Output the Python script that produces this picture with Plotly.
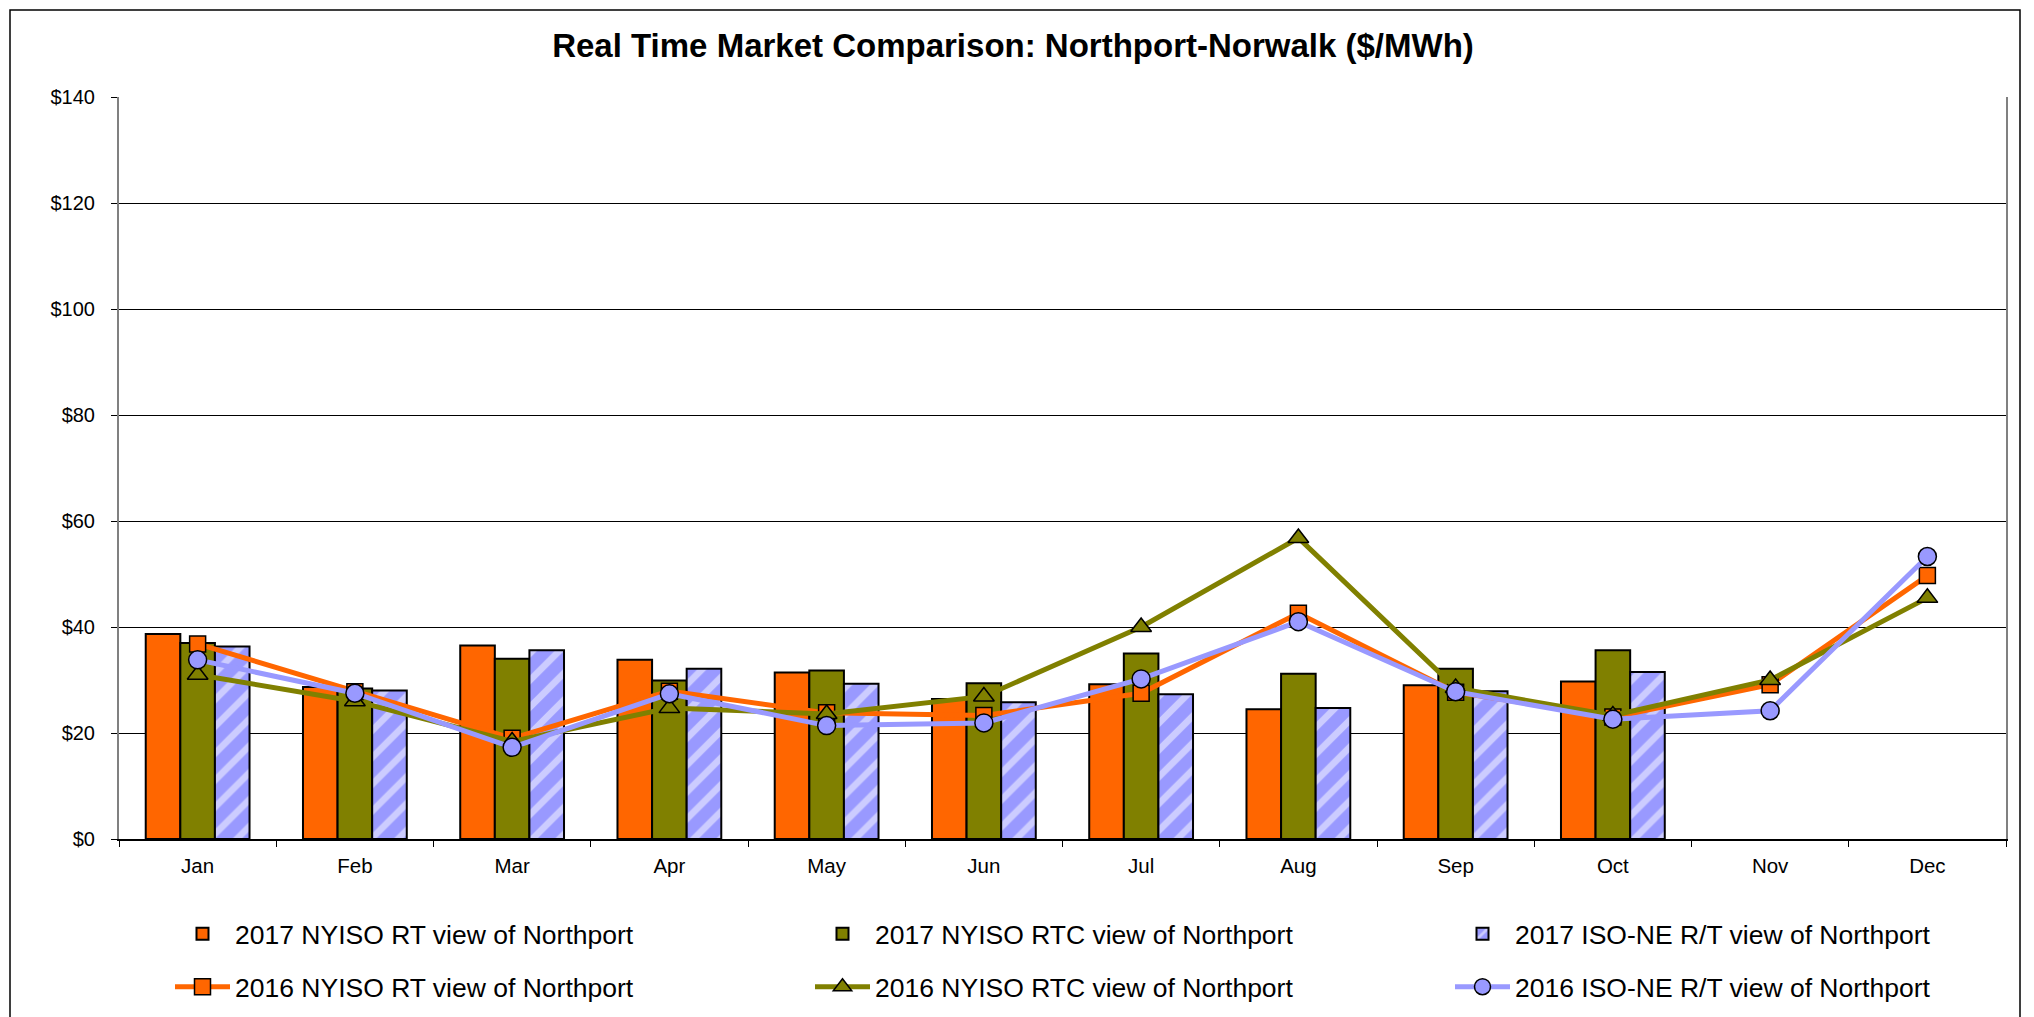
import plotly.graph_objects as go

months = ["Jan", "Feb", "Mar", "Apr", "May", "Jun", "Jul", "Aug", "Sep", "Oct", "Nov", "Dec"]

nyiso_rt_2017 = [38.7, 28.7, 36.5, 33.8, 31.4, 26.4, 29.2, 24.5, 29.0, 29.7, None, None]
nyiso_rtc_2017 = [37.0, 28.4, 34.0, 29.9, 31.8, 29.4, 35.0, 31.2, 32.1, 35.6, None, None]
isone_rt_2017 = [36.3, 28.0, 35.6, 32.1, 29.3, 25.8, 27.3, 24.7, 27.9, 31.5, None, None]

nyiso_rt_2016 = [36.8, 27.8, 19.0, 27.9, 23.8, 23.3, 27.5, 42.6, 27.7, 23.0, 29.1, 49.7]
nyiso_rtc_2016 = [31.0, 26.0, 18.4, 24.7, 23.6, 26.9, 40.0, 56.8, 28.5, 23.3, 30.0, 45.5]
isone_rt_2016 = [33.8, 27.5, 17.3, 27.4, 21.4, 21.9, 30.2, 41.0, 27.8, 22.6, 24.2, 53.3]

y_tick_vals = [0, 20, 40, 60, 80, 100, 120, 140]
y_tick_labels = ["$0", "$20", "$40", "$60", "$80", "$100", "$120", "$140"]

ORANGE = "#FF6600"
OLIVE = "#808000"
LAV = "#9999FF"
FONT = "Liberation Sans, Arial, sans-serif"

W, H = 2034, 1017
PL, PR, PT, PB = 119, 2006, 97, 839   # plot area in pixels
PW, PH = PR - PL, PB - PT
ITEMW = 55


def px_x(px):
    return (px - PL) / PW


def px_y(py):
    return (PB - py) / PH


fig = go.Figure()

fig.add_trace(go.Bar(
    x=months, y=nyiso_rt_2017, name="2017 NYISO RT view of Northport",
    marker=dict(color=ORANGE, line=dict(color="black", width=2)), legend="legend"))
fig.add_trace(go.Bar(
    x=months, y=nyiso_rtc_2017, name="2017 NYISO RTC view of Northport",
    marker=dict(color=OLIVE, line=dict(color="black", width=2)), legend="legend2"))
fig.add_trace(go.Bar(
    x=months, y=isone_rt_2017, name="2017 ISO-NE R/T view of Northport",
    marker=dict(color=LAV, line=dict(color="black", width=2),
                pattern=dict(shape="/", bgcolor=LAV, fgcolor="white", size=19, solidity=0.35)),
    legend="legend3"))

fig.add_trace(go.Scatter(
    x=months, y=nyiso_rt_2016, name="2016 NYISO RT view of Northport", mode="lines+markers",
    line=dict(color=ORANGE, width=5),
    marker=dict(symbol="square", size=16, color=ORANGE, line=dict(color="black", width=1.5)),
    legend="legend4"))
fig.add_trace(go.Scatter(
    x=months, y=nyiso_rtc_2016, name="2016 NYISO RTC view of Northport", mode="lines+markers",
    line=dict(color=OLIVE, width=5),
    marker=dict(symbol="triangle-up", size=18, color=OLIVE, line=dict(color="black", width=1.5)),
    legend="legend5"))
fig.add_trace(go.Scatter(
    x=months, y=isone_rt_2016, name="2016 ISO-NE R/T view of Northport", mode="lines+markers",
    line=dict(color=LAV, width=5),
    marker=dict(symbol="circle", size=18, color=LAV, line=dict(color="black", width=1.5)),
    legend="legend6"))


def leg(text_x_px, row_y_px):
    return dict(orientation="v", xanchor="left", yanchor="middle",
                x=px_x(text_x_px - ITEMW - 10), y=px_y(row_y_px),
                itemwidth=ITEMW,
                font=dict(family=FONT, size=26.5, color="black"),
                bgcolor="rgba(0,0,0,0)", borderwidth=0, visible=True)


col_x = [235, 875, 1515]
row_y = [934, 987]

fig.update_layout(
    width=W, height=H, showlegend=True,
    margin=dict(l=PL, r=W - PR, t=PT, b=H - PB, autoexpand=False),
    paper_bgcolor="white", plot_bgcolor="white",
    font=dict(family=FONT, color="black"),
    title=dict(text="<b>Real Time Market Comparison: Northport-Norwalk ($/MWh)</b>",
               x=1013 / W, xref="container", xanchor="center",
               y=1 - 45 / H, yref="container", yanchor="middle",
               font=dict(family=FONT, size=33, color="black")),
    barmode="group", bargap=0.34, bargroupgap=0,
    legend=leg(col_x[0], row_y[0]),
    legend2=leg(col_x[1], row_y[0]),
    legend3=leg(col_x[2], row_y[0]),
    legend4=leg(col_x[0], row_y[1]),
    legend5=leg(col_x[1], row_y[1]),
    legend6=leg(col_x[2], row_y[1]),
    xaxis=dict(range=[-0.5, 11.5], showline=True, linecolor="black", linewidth=1.5,
               ticks="outside", ticklen=6, tickcolor="black", tickson="boundaries",
               ticklabelstandoff=8,
               tickfont=dict(family=FONT, size=20.5, color="black"),
               showgrid=False),
    yaxis=dict(range=[0, 140], tickvals=y_tick_vals, ticktext=y_tick_labels,
               showline=True, linecolor="#808080", linewidth=2, mirror=True,
               ticks="outside", ticklen=6, tickcolor="black",
               ticklabelstandoff=12,
               showgrid=True, gridcolor="black", gridwidth=1,
               zeroline=False,
               tickfont=dict(family=FONT, size=20, color="black")),
    shapes=[dict(type="rect", xref="paper", yref="paper",
                 x0=px_x(10), x1=px_x(2020),
                 y0=px_y(1030), y1=px_y(10),
                 line=dict(color="black", width=1.5), fillcolor="rgba(0,0,0,0)", layer="below")],
)

fig.write_html("out.html", config={"displayModeBar": False},
               post_script="document.body.style.margin='0';document.body.style.overflow='hidden';")
